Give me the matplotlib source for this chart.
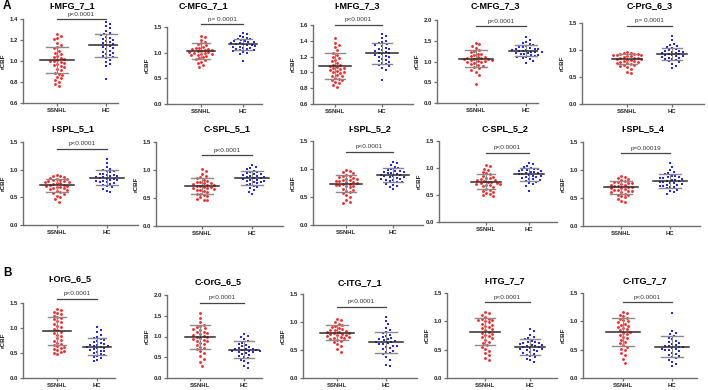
import numpy as np
import matplotlib.pyplot as plt

plt.rcParams['font.family'] = ['Liberation Sans', 'DejaVu Sans']

# rCBF values per region
imfg71_ssnhl = [1.26, 1.24, 1.22, 1.21, 1.17, 1.15, 1.13, 1.12, 1.10, 1.08, 1.07, 1.05, 1.04, 1.03, 1.02, 1.01, 1.00, 1.00,
                0.99, 0.98, 0.97, 0.96, 0.95, 0.94, 0.92, 0.91, 0.89, 0.88, 0.87, 0.85, 0.84, 0.82, 0.80, 0.78, 0.76]
imfg71_hc = [1.37, 1.35, 1.33, 1.31, 1.29, 1.27, 1.26, 1.25, 1.23, 1.22, 1.21, 1.20, 1.19, 1.18, 1.17, 1.16, 1.15, 1.14,
             1.13, 1.12, 1.11, 1.10, 1.09, 1.08, 1.07, 1.06, 1.05, 1.04, 1.03, 1.01, 0.99, 0.97, 0.95, 0.83]
cmfg71_ssnhl = [1.33, 1.30, 1.25, 1.20, 1.18, 1.16, 1.14, 1.12, 1.10, 1.09, 1.08, 1.07, 1.06, 1.05, 1.04, 1.03, 1.02,
                1.01, 1.00, 0.99, 0.98, 0.97, 0.96, 0.95, 0.93, 0.91, 0.89, 0.87, 0.85, 0.82, 0.79, 0.76, 0.72]
cmfg71_hc = [1.38, 1.36, 1.33, 1.31, 1.29, 1.27, 1.26, 1.25, 1.23, 1.22, 1.21, 1.20, 1.19, 1.18, 1.17, 1.16, 1.15, 1.14,
             1.13, 1.12, 1.11, 1.10, 1.09, 1.08, 1.07, 1.06, 1.05, 1.04, 1.02, 1.00, 0.98, 0.83]
imfg73_ssnhl = [1.44, 1.37, 1.35, 1.32, 1.28, 1.25, 1.22, 1.20, 1.18, 1.16, 1.14, 1.12, 1.10, 1.09, 1.08, 1.07, 1.06,
                1.05, 1.04, 1.03, 1.02, 1.01, 1.00, 0.99, 0.97, 0.96, 0.95, 0.93, 0.92, 0.91, 0.90, 0.88, 0.86, 0.84, 0.82]
imfg73_hc = [1.49, 1.46, 1.43, 1.40, 1.38, 1.37, 1.36, 1.35, 1.33, 1.31, 1.30, 1.29, 1.28, 1.27, 1.26, 1.25, 1.24, 1.23,
             1.22, 1.21, 1.20, 1.19, 1.17, 1.16, 1.15, 1.13, 1.12, 1.11, 1.10, 1.08, 1.06, 1.03, 0.91]
cmfg73_ssnhl = [1.45, 1.42, 1.38, 1.33, 1.28, 1.25, 1.22, 1.19, 1.17, 1.15, 1.13, 1.11, 1.10, 1.09, 1.08, 1.07, 1.06,
                1.05, 1.04, 1.03, 1.02, 1.01, 1.00, 0.98, 0.96, 0.94, 0.92, 0.90, 0.87, 0.84, 0.80, 0.75, 0.68, 0.45]
cmfg73_hc = [1.58, 1.52, 1.47, 1.44, 1.41, 1.39, 1.37, 1.35, 1.34, 1.32, 1.31, 1.30, 1.29, 1.28, 1.27, 1.26, 1.25, 1.24,
             1.23, 1.22, 1.21, 1.20, 1.18, 1.17, 1.16, 1.15, 1.13, 1.12, 1.10, 1.08, 1.05, 1.02, 0.97]
cprg63_ssnhl = [0.96, 0.95, 0.94, 0.93, 0.93, 0.92, 0.91, 0.90, 0.90, 0.89, 0.88, 0.87, 0.86, 0.85, 0.85, 0.84, 0.83,
                0.82, 0.81, 0.80, 0.79, 0.78, 0.77, 0.76, 0.75, 0.74, 0.73, 0.72, 0.70, 0.68, 0.65, 0.60, 0.57]
cprg63_hc = [1.25, 1.18, 1.12, 1.10, 1.08, 1.06, 1.04, 1.02, 1.00, 0.99, 0.98, 0.97, 0.96, 0.95, 0.94, 0.93, 0.92, 0.91,
             0.90, 0.89, 0.88, 0.87, 0.86, 0.85, 0.84, 0.83, 0.81, 0.79, 0.77, 0.74, 0.70, 0.66]
ispl51_ssnhl = [0.90, 0.89, 0.88, 0.87, 0.85, 0.84, 0.83, 0.82, 0.81, 0.80, 0.79, 0.78, 0.77, 0.76, 0.75, 0.74, 0.73,
                0.72, 0.71, 0.70, 0.69, 0.68, 0.67, 0.66, 0.65, 0.63, 0.62, 0.60, 0.58, 0.56, 0.53, 0.50, 0.47, 0.42]
ispl51_hc = [1.20, 1.12, 1.05, 1.02, 1.00, 0.98, 0.97, 0.95, 0.93, 0.92, 0.91, 0.90, 0.89, 0.88, 0.87, 0.86, 0.85, 0.84,
             0.83, 0.82, 0.81, 0.80, 0.79, 0.78, 0.77, 0.76, 0.74, 0.72, 0.70, 0.68, 0.65, 0.62, 0.60]
cspl51_ssnhl = [1.02, 0.98, 0.93, 0.90, 0.87, 0.85, 0.83, 0.81, 0.79, 0.78, 0.77, 0.76, 0.75, 0.74, 0.73, 0.72, 0.71,
                0.70, 0.69, 0.68, 0.67, 0.66, 0.65, 0.64, 0.62, 0.60, 0.58, 0.57, 0.55, 0.53, 0.51, 0.49, 0.47, 0.46]
cspl51_hc = [1.09, 1.05, 1.03, 1.01, 0.99, 0.97, 0.96, 0.94, 0.93, 0.92, 0.91, 0.90, 0.89, 0.88, 0.87, 0.86, 0.85, 0.84,
             0.83, 0.82, 0.81, 0.80, 0.79, 0.78, 0.76, 0.75, 0.73, 0.71, 0.69, 0.67, 0.64, 0.61, 0.58]
ispl52_ssnhl = [0.98, 0.96, 0.94, 0.92, 0.90, 0.88, 0.87, 0.86, 0.84, 0.83, 0.82, 0.81, 0.80, 0.79, 0.78, 0.77, 0.76,
                0.75, 0.74, 0.73, 0.72, 0.71, 0.70, 0.69, 0.67, 0.65, 0.63, 0.61, 0.59, 0.57, 0.54, 0.50, 0.45, 0.41, 0.40]
ispl52_hc = [1.13, 1.11, 1.07, 1.04, 1.02, 1.00, 0.99, 0.97, 0.96, 0.95, 0.94, 0.93, 0.92, 0.91, 0.90, 0.89, 0.88, 0.87,
             0.86, 0.85, 0.84, 0.83, 0.82, 0.81, 0.80, 0.79, 0.77, 0.76, 0.74, 0.72, 0.70, 0.67, 0.65]
cspl52_ssnhl = [1.05, 1.03, 0.99, 0.96, 0.93, 0.90, 0.88, 0.86, 0.84, 0.82, 0.81, 0.80, 0.78, 0.77, 0.76, 0.75, 0.74,
                0.73, 0.72, 0.71, 0.70, 0.69, 0.68, 0.66, 0.64, 0.62, 0.60, 0.58, 0.56, 0.54, 0.52, 0.50, 0.48]
cspl52_hc = [1.10, 1.07, 1.04, 1.02, 1.00, 0.99, 0.98, 0.97, 0.96, 0.95, 0.94, 0.93, 0.92, 0.91, 0.90, 0.89, 0.88, 0.87,
             0.86, 0.85, 0.84, 0.83, 0.82, 0.80, 0.79, 0.78, 0.76, 0.74, 0.72, 0.70, 0.67, 0.58]
ispl54_ssnhl = [0.90, 0.88, 0.86, 0.84, 0.82, 0.80, 0.79, 0.78, 0.77, 0.76, 0.75, 0.74, 0.73, 0.72, 0.71, 0.70, 0.69,
                0.68, 0.67, 0.66, 0.65, 0.64, 0.63, 0.62, 0.61, 0.60, 0.58, 0.56, 0.55, 0.53, 0.51, 0.48, 0.45, 0.43]
ispl54_hc = [1.12, 1.06, 1.00, 0.96, 0.94, 0.92, 0.90, 0.89, 0.88, 0.87, 0.86, 0.85, 0.84, 0.83, 0.82, 0.81, 0.80, 0.79,
             0.78, 0.77, 0.76, 0.75, 0.74, 0.73, 0.72, 0.71, 0.70, 0.69, 0.67, 0.65, 0.63, 0.60, 0.58]
iorg65_ssnhl = [1.38, 1.36, 1.33, 1.30, 1.28, 1.25, 1.23, 1.21, 1.18, 1.15, 1.12, 1.09, 1.05, 1.02, 0.99, 0.96, 0.93,
                0.90, 0.87, 0.84, 0.80, 0.77, 0.74, 0.71, 0.68, 0.66, 0.64, 0.62, 0.60, 0.58, 0.56, 0.54, 0.52, 0.50, 0.48]
iorg65_hc = [1.02, 0.97, 0.92, 0.86, 0.82, 0.80, 0.78, 0.76, 0.74, 0.72, 0.70, 0.68, 0.67, 0.66, 0.65, 0.64, 0.63, 0.62,
             0.61, 0.60, 0.58, 0.57, 0.55, 0.54, 0.52, 0.50, 0.48, 0.46, 0.44, 0.42, 0.40, 0.37, 0.34]
corg65_ssnhl = [1.56, 1.45, 1.35, 1.28, 1.25, 1.22, 1.20, 1.18, 1.15, 1.12, 1.10, 1.08, 1.06, 1.04, 1.02, 1.00, 0.98,
                0.96, 0.94, 0.92, 0.90, 0.88, 0.85, 0.82, 0.79, 0.75, 0.72, 0.70, 0.65, 0.60, 0.52, 0.45, 0.38, 0.30]
corg65_hc = [1.05, 1.02, 0.98, 0.93, 0.88, 0.85, 0.82, 0.79, 0.76, 0.74, 0.72, 0.71, 0.70, 0.69, 0.68, 0.67, 0.66, 0.65,
             0.64, 0.63, 0.62, 0.60, 0.58, 0.56, 0.53, 0.50, 0.47, 0.44, 0.40, 0.35, 0.30, 0.24]
citg71_ssnhl = [1.06, 1.03, 1.00, 0.97, 0.95, 0.93, 0.91, 0.89, 0.87, 0.86, 0.85, 0.84, 0.83, 0.82, 0.81, 0.80, 0.79,
                0.78, 0.77, 0.76, 0.75, 0.74, 0.73, 0.72, 0.71, 0.70, 0.68, 0.66, 0.64, 0.61, 0.57, 0.52, 0.47]
citg71_hc = [1.09, 1.02, 0.96, 0.90, 0.85, 0.82, 0.80, 0.77, 0.75, 0.73, 0.71, 0.70, 0.69, 0.67, 0.66, 0.65, 0.64, 0.62,
             0.61, 0.60, 0.58, 0.57, 0.55, 0.53, 0.51, 0.49, 0.47, 0.45, 0.42, 0.38, 0.33, 0.24, 0.22]
iitg77_ssnhl = [1.17, 1.15, 1.12, 1.08, 1.05, 1.04, 1.03, 1.02, 1.00, 0.98, 0.96, 0.94, 0.92, 0.90, 0.88, 0.86, 0.84,
                0.82, 0.80, 0.78, 0.76, 0.74, 0.72, 0.70, 0.67, 0.64, 0.61, 0.58, 0.55, 0.52, 0.48, 0.44, 0.40, 0.35, 0.32]
iitg77_hc = [0.87, 0.83, 0.76, 0.72, 0.70, 0.68, 0.66, 0.64, 0.63, 0.62, 0.61, 0.60, 0.59, 0.58, 0.57, 0.56, 0.55, 0.54,
             0.53, 0.52, 0.51, 0.50, 0.49, 0.48, 0.46, 0.45, 0.43, 0.41, 0.39, 0.37, 0.34, 0.31, 0.29]
citg77_ssnhl = [1.17, 1.15, 1.12, 1.09, 1.06, 1.04, 1.02, 1.00, 0.98, 0.96, 0.94, 0.92, 0.90, 0.88, 0.86, 0.84, 0.82,
                0.80, 0.78, 0.76, 0.73, 0.70, 0.67, 0.64, 0.61, 0.58, 0.55, 0.52, 0.49, 0.45, 0.40, 0.33, 0.27]
citg77_hc = [1.14, 0.83, 0.80, 0.77, 0.74, 0.71, 0.68, 0.66, 0.64, 0.62, 0.60, 0.58, 0.57, 0.56, 0.55, 0.54, 0.53, 0.52,
             0.51, 0.50, 0.49, 0.47, 0.45, 0.43, 0.41, 0.39, 0.37, 0.35, 0.32, 0.28, 0.24, 0.21]

titles = ['I-MFG_7_1', 'C-MFG_7_1', 'I-MFG_7_3', 'C-MFG_7_3', 'C-PrG_6_3',
          'I-SPL_5_1', 'C-SPL_5_1', 'I-SPL_5_2', 'C-SPL_5_2', 'I-SPL_5_4',
          'I-OrG_6_5', 'C-OrG_6_5', 'C-ITG_7_1', 'I-ITG_7_7', 'C-ITG_7_7']
ssnhl_data = [imfg71_ssnhl, cmfg71_ssnhl, imfg73_ssnhl, cmfg73_ssnhl, cprg63_ssnhl,
              ispl51_ssnhl, cspl51_ssnhl, ispl52_ssnhl, cspl52_ssnhl, ispl54_ssnhl,
              iorg65_ssnhl, corg65_ssnhl, citg71_ssnhl, iitg77_ssnhl, citg77_ssnhl]
hc_data = [imfg71_hc, cmfg71_hc, imfg73_hc, cmfg73_hc, cprg63_hc,
           ispl51_hc, cspl51_hc, ispl52_hc, cspl52_hc, ispl54_hc,
           iorg65_hc, corg65_hc, citg71_hc, iitg77_hc, citg77_hc]
# mean and SD as drawn in the figure
mean_ssnhl = [1.01, 1.03, 1.08, 1.07, 0.83, 0.72, 0.71, 0.74, 0.75, 0.69, 0.94, 0.99, 0.81, 0.82, 0.81]
sd_ssnhl = [0.125, 0.15, 0.165, 0.20, 0.095, 0.12, 0.14, 0.145, 0.145, 0.12, 0.28, 0.29, 0.135, 0.235, 0.25]
mean_hc = [1.15, 1.16, 1.24, 1.26, 0.93, 0.85, 0.85, 0.89, 0.88, 0.80, 0.63, 0.68, 0.64, 0.55, 0.55]
sd_hc = [0.11, 0.11, 0.13, 0.13, 0.115, 0.135, 0.125, 0.12, 0.115, 0.12, 0.17, 0.20, 0.185, 0.14, 0.185]
p_labels = ['p<0.0001', 'p= 0.0001', 'p<0.0001', 'p<0.0001', 'p= 0.0001',
            'p<0.0001', 'p<0.0001', 'p<0.0001', 'p<0.0001', 'p=0.00019',
            'p<0.0001', 'p<0.0001', 'p<0.0001', 'p<0.0001', 'p<0.0001']
y_ranges = [(0.6, 1.4, 0.2), (0.0, 1.5, 0.5), (0.6, 1.6, 0.2), (0.0, 2.0, 0.5), (0.0, 1.5, 0.5),
            (0.0, 1.5, 0.5), (0.0, 1.5, 0.5), (0.0, 1.5, 0.5), (0.0, 1.5, 0.5), (0.0, 1.5, 0.5),
            (0.0, 1.5, 0.5), (0.0, 2.0, 0.5), (0.0, 1.5, 0.5), (0.0, 1.5, 0.5), (0.0, 1.5, 0.5)]
groups = ['SSNHL', 'HC']

# panel layout in pixels: left spine, right end, top, bottom, SSNHL x, HC x
layout = [(23, 118, 19, 103, 57, 106), (167, 262, 27, 104, 201, 243), (313, 413, 25, 104, 335, 382),
          (437, 538, 20, 103, 476, 526), (582, 704, 23, 104, 627, 672),
          (23, 138, 142, 225, 57, 107), (156, 283, 142, 226, 202, 252), (313, 423, 141, 225, 346, 393),
          (439, 557, 141, 222, 486, 529), (583, 700, 142, 226, 621, 670),
          (23, 115, 303, 378, 57, 97), (167, 262, 295, 378, 200, 244), (303, 417, 294, 378, 337, 386),
          (447, 557, 293, 378, 485, 530), (583, 697, 293, 378, 623, 672)]
bracket_y = [19, 24, 25, 26, 26, 149, 155, 152, 153, 153, 299, 303, 307, 302, 302]
# title baselines in pixels
title_pos = [(72, 8), (203, 8.5), (357, 8.5), (495, 8.5), (650, 8.5),
             (73, 131.5), (227, 131.5), (370, 131.5), (505, 131.5), (643, 131.5),
             (70, 281.5), (218, 284.5), (360, 285.5), (505, 283.5), (645, 283.5)]

W, H = 708, 390
AX_COL = '#6e6e6e'


def swarm(vals, px_x, px_y, d=3.5):
    # simple deterministic beeswarm in pixel space
    order = np.argsort(vals)[::-1]
    placed = []
    xs = np.zeros(len(vals))
    for i in order:
        y = vals[i] * px_y
        k = 0
        while True:
            step = (k + 1) // 2 * (1 if k % 2 else -1)
            x = step * d * 0.5
            if all((x - px) ** 2 + (y - py) ** 2 >= d * d for px, py in placed):
                break
            k += 1
        placed.append((x, y))
        xs[i] = x / px_x
    return xs


fig = plt.figure(figsize=(7.08, 3.9), dpi=100)

for i in range(15):
    x0, x1, yt, yb, xs, xh = layout[i]
    ax = fig.add_axes([x0 / W, 1 - yb / H, (x1 - x0) / W, (yb - yt) / H])
    unit = xh - xs
    ax.set_xlim((x0 - xs) / unit, (x1 - xs) / unit)
    ymin, ymax, ystep = y_ranges[i]
    ax.set_ylim(ymin, ymax)
    px_y = (yb - yt) / (ymax - ymin)

    for g, (vals, col, mk, sz) in enumerate([(ssnhl_data[i], '#ff2424', 'o', 4.2), (hc_data[i], '#2424ff', 's', 3.6)]):
        vals = np.array(vals)
        offs = swarm(vals, unit, px_y)
        ax.scatter(g + offs, vals, s=sz, color=col, marker=mk, linewidths=0, zorder=3, clip_on=False)

    for g, (m, sd) in enumerate([(mean_ssnhl[i], sd_ssnhl[i]), (mean_hc[i], sd_hc[i])]):
        ax.plot([g, g], [m - sd, m + sd], color='#8a8a8a', lw=0.8, zorder=4)
        ax.plot([g - 0.22, g + 0.22], [m + sd] * 2, color='#8a8a8a', lw=1.0, zorder=4)
        ax.plot([g - 0.22, g + 0.22], [m - sd] * 2, color='#8a8a8a', lw=1.0, zorder=4)
        ax.plot([g - 0.34, g + 0.34], [m, m], color='#2a2a2a', lw=1.1, zorder=5)

    # significance bracket
    by = ymin + (yb - bracket_y[i]) / px_y
    ax.plot([0, 1], [by, by], color='#444444', lw=0.9, clip_on=False)
    ax.text(0.5, by + 2.5 / px_y, p_labels[i], ha='center', va='bottom', fontsize=4.6, color='#333333')

    ax.set_xticks([0, 1])
    ax.set_xticklabels(groups, fontsize=4.3, fontweight='bold')
    ax.set_yticks(np.arange(ymin, ymax + 1e-6, ystep))
    ax.set_yticklabels([f'{v:.1f}' for v in np.arange(ymin, ymax + 1e-6, ystep)], fontsize=4.3, fontweight='bold')
    for s in ['top', 'right']:
        ax.spines[s].set_visible(False)
    for s in ['left', 'bottom']:
        ax.spines[s].set_color(AX_COL)
        ax.spines[s].set_linewidth(1.0)
    ax.tick_params(colors=AX_COL, width=0.9, length=2.2, pad=1.5, labelcolor='#222222')
    ax.set_ylabel('rCBF', fontsize=4.6, fontweight='bold', color='#222222')
    ax.yaxis.set_label_coords(-17 / (x1 - x0), 0.5)
    ax.patch.set_alpha(0)

    tx, ty = title_pos[i]
    fig.text(tx / W, 1 - ty / H, titles[i], ha='center', va='baseline', fontsize=6.5, fontweight='bold')

fig.text(3 / W, 1 - 9 / H, 'A', ha='left', va='baseline', fontsize=8.5, fontweight='bold')
fig.text(3 / W, 1 - 276 / H, 'B', ha='left', va='baseline', fontsize=8.5, fontweight='bold')

fig.savefig('out.png', dpi=100)
